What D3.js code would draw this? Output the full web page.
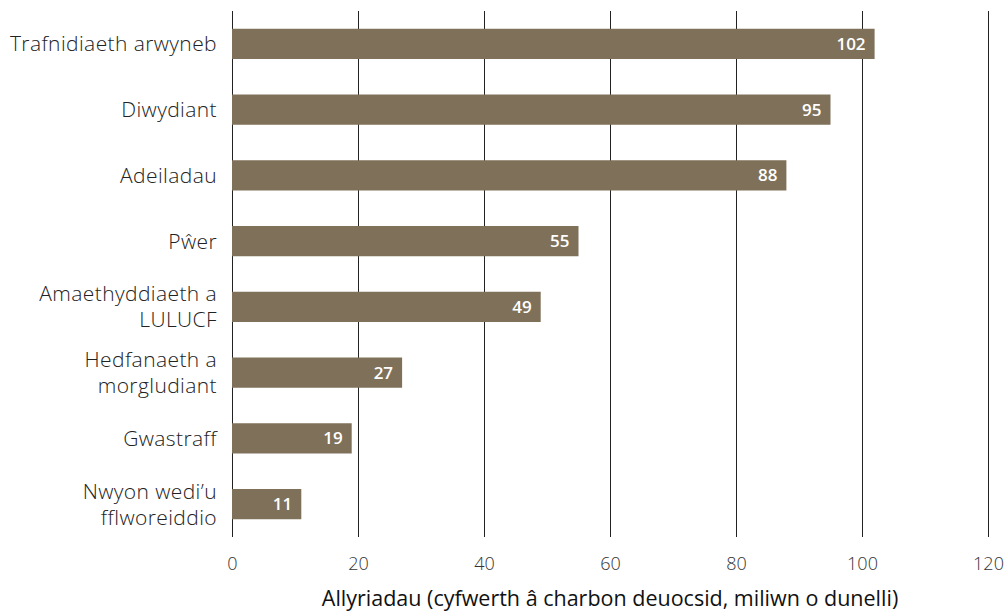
<!DOCTYPE html>
<html>
<head>
<meta charset="utf-8">
<script src="https://cdn.jsdelivr.net/npm/d3@7"></script>
<style>
  body { margin: 0; background: #fff; }
  svg { display: block; font-family: "Open Sans", "Liberation Sans", Arial, sans-serif; }
</style>
</head>
<body>
<div id="chart"></div>
<script>
// Sector labels (lines split where the original wraps)
const categories = [
    ['Trafnidiaeth arwyneb'],
    ['Diwydiant'],
    ['Adeiladau'],
    ['Pŵer'],
    ['Amaethyddiaeth a', 'LULUCF'],
    ['Hedfanaeth a', 'morgludiant'],
    ['Gwastraff'],
    ['Nwyon wedi\u2019u', 'fflworeiddio']
];
const values = [102, 95, 88, 55, 49, 27, 19, 11];
const xTicks = [0, 20, 40, 60, 80, 100, 120];
const xTitle = 'Allyriadau (cyfwerth â charbon deuocsid, miliwn o dunelli)';

const width = 1005;
const height = 612;
const margins = { top: 11, right: 17, bottom: 75, left: 232 };

const BAR_COLOR = '#7f7159';
const GRID_COLOR = '#222';
const TEXT_COLOR = '#222';
const MAIN_FONT = '"Open Sans", "Liberation Sans", Arial, sans-serif';

const svg = d3.select('#chart')
    .append('svg')
    .attr('width', width)
    .attr('height', height);

const plotWidth = width - margins.left - margins.right;
const plotHeight = height - margins.top - margins.bottom;

const plotArea = svg.append('g')
    .attr('transform', `translate(${margins.left},${margins.top})`);

const x = d3.scaleLinear()
    .domain([0, 120])
    .range([0, plotWidth]);

const y = d3.scaleBand()
    .domain(d3.range(values.length))
    .range([0, plotHeight])
    .paddingInner(0.54)
    .paddingOuter(0.27);

// Gridlines (behind bars)
plotArea.append('g')
    .attr('class', 'grid')
    .selectAll('line')
    .data(xTicks)
    .enter()
    .append('line')
    .attr('x1', d => x(d) + 0.5)
    .attr('x2', d => x(d) + 0.5)
    .attr('y1', 0)
    .attr('y2', plotHeight)
    .style('stroke', GRID_COLOR)
    .style('stroke-width', 1);

// X axis tick labels
const xAxis = plotArea.append('g')
    .attr('class', 'x-axis')
    .attr('transform', `translate(0,${plotHeight})`)
    .call(d3.axisBottom(x)
        .tickValues(xTicks)
        .tickSize(0)
        .tickPadding(20));

xAxis.select('.domain').remove();
xAxis.selectAll('text')
    .style('font-size', '18px')
    .style('font-weight', '300')
    .style('font-family', MAIN_FONT)
    .style('fill', '#333');

// Bars
plotArea.selectAll('.bar')
    .data(values)
    .enter()
    .append('rect')
    .attr('class', 'bar')
    .attr('x', x(0))
    .attr('y', (d, i) => y(i))
    .attr('width', d => x(d) - x(0))
    .attr('height', y.bandwidth())
    .style('fill', BAR_COLOR);

// Value labels inside bars
plotArea.selectAll('.value-label')
    .data(values)
    .enter()
    .append('text')
    .attr('class', 'value-label')
    .attr('x', d => x(d) - 9)
    .attr('y', (d, i) => y(i) + y.bandwidth() / 2)
    .attr('dy', '0.36em')
    .attr('text-anchor', 'end')
    .style('font-size', '17px')
    .style('font-weight', '600')
    .style('fill', '#fff')
    .text(d => d);

// Category labels, one text per line
const LINE_H = 26;
const CAT_SIZE = 21;
categories.forEach((lines, i) => {
    const cy = y(i) + y.bandwidth() / 2;
    lines.forEach((line, j) => {
        plotArea.append('text')
            .attr('class', 'cat-label')
            .attr('text-anchor', 'end')
            .attr('x', -15)
            .attr('y', cy + (j - (lines.length - 1) / 2) * LINE_H)
            .attr('dy', '0.36em')
            .style('font-size', CAT_SIZE + 'px')
            .style('font-weight', '300')
            .style('letter-spacing', '0.4px')
            .style('fill', TEXT_COLOR)
            .text(line);
    });
});

// Axis title
svg.append('text')
    .attr('class', 'x-label')
    .attr('text-anchor', 'middle')
    .attr('x', margins.left + plotWidth / 2)
    .attr('y', height - 6)
    .style('font-size', '21.5px')
    .style('fill', '#111')
    .text(xTitle);
</script>
</body>
</html>
